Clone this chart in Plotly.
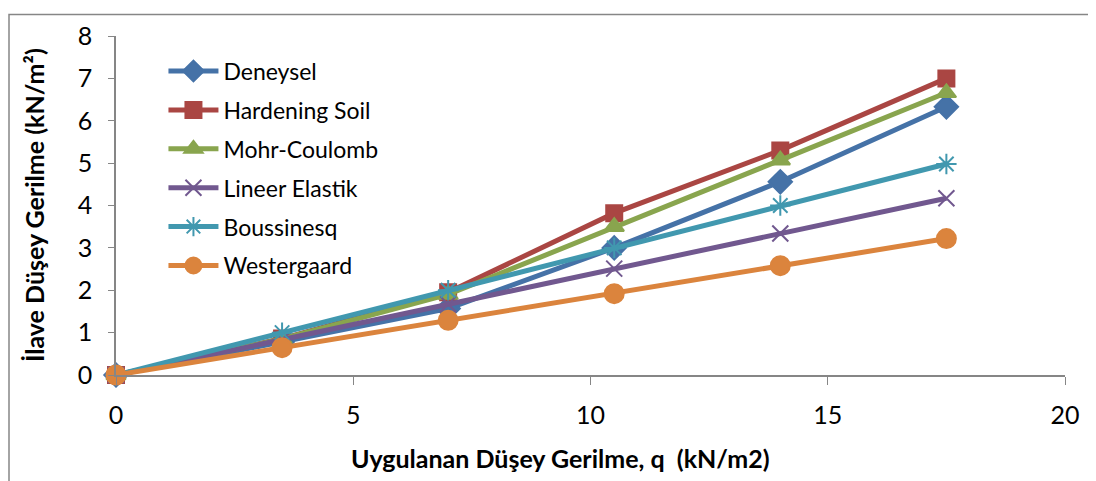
import plotly.graph_objects as go

q = [0, 3.5, 7, 10.5, 14, 17.5]
deneysel = [0, 0.78, 1.57, 3.0, 4.56, 6.33]
hardening = [0, 0.86, 1.95, 3.82, 5.3, 7.0]
mohr = [0, 0.85, 1.9, 3.5, 5.07, 6.66]
lineer = [0, 0.83, 1.67, 2.51, 3.34, 4.17]
boussinesq = [0, 1.0, 2.0, 3.0, 4.0, 4.98]
westergaard = [0, 0.645, 1.29, 1.92, 2.58, 3.22]

series = [
    ("Deneysel", deneysel, "#4572A7", "diamond", 18),
    ("Hardening Soil", hardening, "#AA4643", "square", 16),
    ("Mohr-Coulomb", mohr, "#89A54E", "triangle-up", 17),
    ("Lineer Elastik", lineer, "#71588F", "x-thin-open", 16),
    ("Boussinesq", boussinesq, "#4198AF", "asterisk-open", 17),
    ("Westergaard", westergaard, "#DB843D", "circle", 19),
]

x_title = "<b>Uygulanan Düşey Gerilme, q  (kN/m2)</b>"
y_title = "<b>İlave Düşey Gerilme (kN/m²)</b>"

fig = go.Figure()
for i, (name, ys, col, sym, sz) in enumerate(series):
    fig.add_trace(go.Scatter(
        x=q, y=ys, name=name, mode="lines+markers", legendgroup=f"g{i}",
        line=dict(color=col, width=5),
        marker=dict(symbol=sym, size=sz, color=col,
                    line=dict(color=col, width=2)),
        cliponaxis=False,
    ))

font = "Lato, Carlito, Calibri, sans-serif"
# page body has an 8px offset; the figure is sized to compensate
W, H = 1088, 473
L, T = 108, 20
PW, PH = 949, 347


def px(xw):
    return (xw - 8 - L) / PW


def py(yw):
    return (T + PH - (yw - 8)) / PH


fig.update_layout(
    width=W, height=H,
    margin=dict(l=L, r=W - L - PW, t=T, b=H - T - PH),
    paper_bgcolor="white", plot_bgcolor="white",
    font=dict(family=font, size=23, color="black"),
    showlegend=True,
    legend=dict(x=0.05, y=0.96, xanchor="left", yanchor="top",
                bgcolor="rgba(0,0,0,0)", font=dict(size=23, family=font),
                tracegroupgap=6, itemwidth=50),
    xaxis=dict(range=[0, 20], dtick=5, showgrid=False, zeroline=False,
               showline=True, linecolor="#868686", linewidth=1.5,
               ticks="outside", ticklen=8, tickcolor="#868686",
               tickfont=dict(size=25), ticklabelstandoff=9),
    yaxis=dict(range=[0, 8], dtick=1, showgrid=False, zeroline=False,
               showline=True, linecolor="#868686", linewidth=1.5,
               ticks="outside", ticklen=6, tickcolor="#868686",
               tickfont=dict(size=25), ticklabelstandoff=11),
    annotations=[
        dict(text=x_title, xref="paper", yref="paper", x=px(560), y=py(460),
             xanchor="center", yanchor="middle", showarrow=False,
             font=dict(size=25, family=font)),
        dict(text=y_title, xref="paper", yref="paper", x=px(34), y=py(201),
             xanchor="center", yanchor="middle", showarrow=False, textangle=-90,
             font=dict(size=25, family=font)),
    ],
    shapes=[dict(type="rect", xref="paper", yref="paper",
                 x0=px(9), x1=px(1095),
                 y0=py(498), y1=py(6),
                 line=dict(color="#868686", width=1.5), layer="below")],
)

fig.write_html("out.html")
